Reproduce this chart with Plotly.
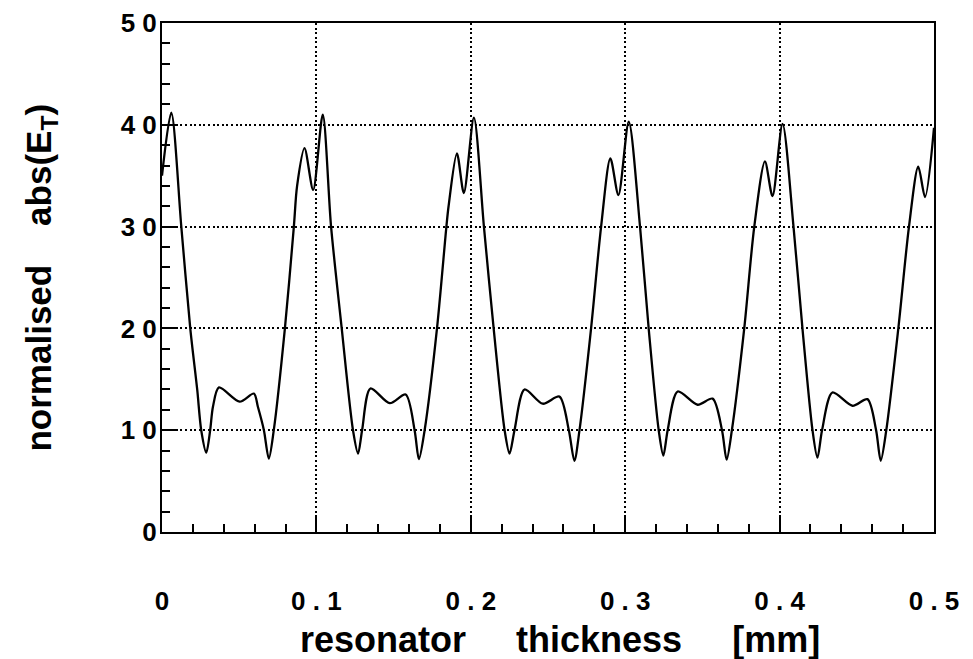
import plotly.graph_objects as go

# thickness [mm] and normalised |E_T|
x_mm = [0, 0.006, 0.0125, 0.0183, 0.0228, 0.0254, 0.0287, 0.0312, 0.033, 0.0369,
        0.0503, 0.0595, 0.0621, 0.066, 0.0692, 0.0724, 0.0796, 0.0854, 0.0875, 0.0923,
        0.0979, 0.1041, 0.1095, 0.1164, 0.1237, 0.127, 0.1296, 0.135, 0.1475, 0.1578,
        0.1636, 0.1664, 0.1701, 0.1781, 0.1842, 0.1856, 0.191, 0.1955, 0.202, 0.2085,
        0.2148, 0.2219, 0.2251, 0.2283, 0.2348, 0.2466, 0.2574, 0.2635, 0.2671, 0.2704,
        0.2779, 0.2844, 0.2904, 0.2956, 0.3023, 0.3096, 0.3152, 0.3217, 0.3247, 0.3275,
        0.334, 0.3469, 0.3566, 0.3627, 0.3657, 0.3691, 0.3771, 0.3836, 0.3905, 0.3954,
        0.4019, 0.409, 0.4148, 0.4213, 0.4245, 0.4275, 0.4342, 0.4472, 0.4569, 0.4625,
        0.4655, 0.4691, 0.4769, 0.4838, 0.4898, 0.4942, 0.5]
abs_et = [35, 41.2, 30, 20, 14, 10, 7.8, 10, 12.3, 14.2,
          12.8, 13.6, 12.3, 10, 7.2, 10, 20, 30, 34, 37.7,
          33.6, 41, 30, 20, 10, 7.7, 10, 14.1, 12.65, 13.5,
          10, 7.15, 10, 20, 30, 32, 37.2, 33.3, 40.7, 30,
          20, 10, 7.7, 10, 14, 12.6, 13.3, 10, 7, 10,
          20, 30, 36.7, 33.1, 40.3, 30, 20, 10, 7.5, 10,
          13.8, 12.5, 13.1, 10, 7.1, 10, 20, 30, 36.4, 33,
          40.1, 30, 20, 10, 7.3, 10, 13.7, 12.4, 13.05, 10,
          7.0, 10, 20, 30, 35.9, 32.9, 39.7]

x_tickvals = [0, 0.1, 0.2, 0.3, 0.4, 0.5]
x_ticktext = ["0", "0 . 1", "0 . 2", "0 . 3", "0 . 4", "0 . 5"]
y_tickvals = [0, 10, 20, 30, 40, 50]
y_ticktext = ["0", "1 0", "2 0", "3 0", "4 0", "5 0"]
x_title = "resonator" + "\u00a0" * 5 + "thickness" + "\u00a0" * 5 + "[mm]"
y_title = "normalised" + "\u00a0" * 4 + "abs(E<sub>T</sub>)"

FONT = "Liberation Sans"

fig = go.Figure()
fig.add_trace(go.Scatter(x=x_mm, y=abs_et, mode="lines",
                         line=dict(color="black", width=2.3, shape="spline", smoothing=0.8),
                         hoverinfo="skip"))

common = dict(showline=True, linewidth=2, linecolor="black", mirror=True,
              zeroline=False, showgrid=True, gridcolor="black", gridwidth=1.6,
              griddash="2px,2.6px", ticks="inside", tickcolor="black", tickwidth=2,
              ticklen=15, tickfont=dict(family=FONT, size=26, color="black", weight="bold"))

fig.update_xaxes(range=[0, 0.5], tickmode="array", tickvals=x_tickvals, ticktext=x_ticktext,
                 ticklabelstandoff=45,
                 minor=dict(tickmode="linear", tick0=0, dtick=0.02, ticks="inside",
                            ticklen=8, tickwidth=1.5, tickcolor="black", showgrid=False),
                 **common)
fig.update_yaxes(range=[0, 50], tickmode="array", tickvals=y_tickvals, ticktext=y_ticktext,
                 ticklabelstandoff=-2,
                 minor=dict(tickmode="linear", tick0=0, dtick=2, ticks="inside",
                            ticklen=8, tickwidth=1.5, tickcolor="black", showgrid=False),
                 **common)

fig.add_annotation(text=x_title, xref="paper", yref="paper", x=0.516, y=0,
                   xanchor="center", yanchor="middle", yshift=-107, showarrow=False,
                   font=dict(family=FONT, size=36, color="black", weight="bold"))
fig.add_annotation(text=y_title, xref="paper", yref="paper", x=-0.158, y=0.5,
                   xanchor="center", yanchor="middle", textangle=-90, showarrow=False,
                   font=dict(family=FONT, size=35, color="black", weight="bold"))

fig.update_layout(width=973, height=659, margin=dict(l=162, r=39, t=23, b=127, autoexpand=False),
                  plot_bgcolor="white", paper_bgcolor="white", showlegend=False,
                  font=dict(family=FONT, color="black"))

fig.write_html("out.html")
